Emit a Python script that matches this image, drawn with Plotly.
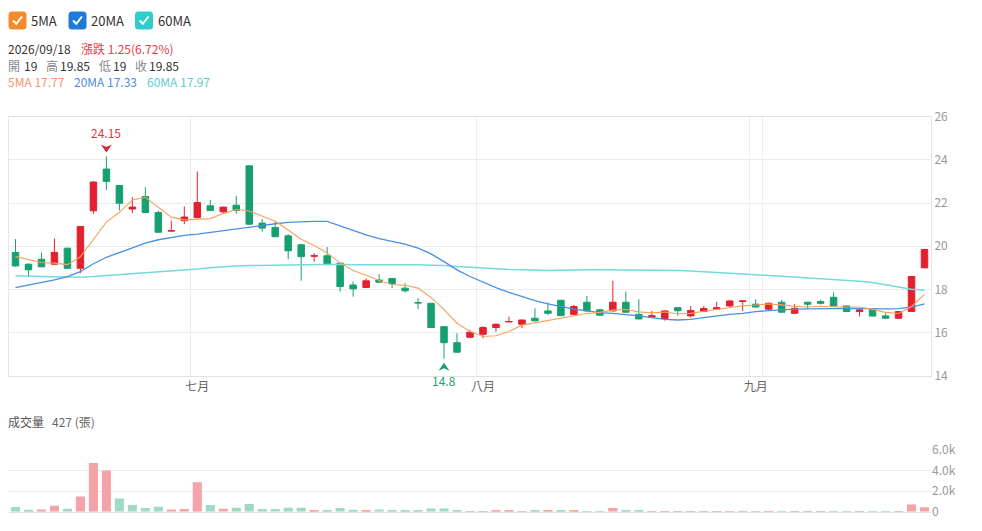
import pandas as pd
import plotly.graph_objects as go

# ---------------- data ----------------
dates = pd.bdate_range("2026-06-10", "2026-09-18", freq="C",
                       holidays=["2026-06-19", "2026-07-24"])
date_labels = [d.strftime("%Y/%m/%d") for d in dates]

opens = [19.71, 19.17, 19.40, 19.17, 19.91, 18.98, 21.64, 23.57, 22.81, 21.72,
         22.30, 21.56, 20.70, 21.18, 21.33, 21.87, 21.59, 21.90, 23.72, 21.07,
         20.87, 20.48, 20.07, 19.54, 19.56, 19.22, 18.21, 18.09, 18.44, 18.51,
         18.06, 17.40, 17.36, 16.28, 15.54, 15.79, 15.93, 16.24, 16.50, 16.39,
         16.67, 17.01, 17.50, 16.85, 17.41, 17.06, 17.01, 17.41, 16.85, 16.72,
         16.65, 17.16, 16.78, 16.98, 17.09, 17.24, 17.45, 17.32, 17.09, 17.41,
         16.90, 17.41, 17.44, 17.64, 17.24, 16.98, 17.09, 16.78, 16.67, 16.98,
         19.00]
highs = [20.33, 19.20, 19.71, 20.36, 19.93, 20.93, 23.00, 24.15, 22.83, 22.27,
         22.73, 21.65, 21.19, 21.84, 23.46, 22.15, 21.83, 22.33, 23.74, 21.25,
         21.15, 20.56, 20.09, 19.68, 19.96, 19.24, 18.37, 18.51, 18.71, 18.53,
         18.29, 17.60, 17.38, 16.30, 15.98, 16.13, 16.30, 16.44, 16.75, 16.60,
         17.13, 17.40, 17.52, 17.29, 17.70, 17.10, 18.40, 17.90, 17.55, 17.01,
         17.03, 17.18, 17.24, 17.24, 17.43, 17.50, 17.50, 17.55, 17.40, 17.52,
         17.33, 17.43, 17.52, 17.87, 17.26, 17.08, 17.10, 16.90, 17.00, 18.62,
         19.85]
lows = [19.05, 18.57, 19.03, 19.15, 18.96, 18.75, 21.50, 22.61, 21.65, 21.53,
        21.55, 20.63, 20.69, 21.02, 21.30, 21.63, 21.50, 21.50, 21.00, 20.68,
        20.42, 19.40, 18.41, 19.28, 19.13, 17.90, 17.67, 18.07, 18.32, 18.06,
        17.86, 17.09, 16.22, 14.80, 15.08, 15.78, 15.74, 16.05, 16.49, 16.21,
        16.53, 16.82, 16.77, 16.83, 16.99, 16.79, 16.99, 16.93, 16.62, 16.70,
        16.56, 16.79, 16.70, 16.96, 17.07, 17.16, 17.01, 17.17, 17.05, 16.93,
        16.87, 17.10, 17.30, 17.22, 16.96, 16.75, 16.76, 16.65, 16.65, 16.96,
        19.00]
closes = [19.09, 18.91, 19.05, 19.71, 18.98, 20.91, 22.97, 23.00, 21.99, 21.81,
          21.56, 20.65, 20.72, 21.35, 22.02, 21.65, 21.81, 21.65, 21.02, 20.84,
          20.44, 19.79, 19.52, 19.56, 19.15, 18.14, 18.03, 18.40, 18.34, 18.26,
          17.94, 17.38, 16.24, 15.54, 15.10, 16.02, 16.24, 16.39, 16.52, 16.59,
          16.55, 16.90, 16.79, 17.21, 17.01, 16.81, 17.41, 16.95, 16.64, 16.79,
          17.01, 17.02, 17.03, 17.12, 17.16, 17.47, 17.47, 17.19, 17.36, 16.95,
          17.13, 17.32, 17.36, 17.24, 16.98, 17.06, 16.77, 16.67, 16.98, 18.60,
          19.85]
volumes = [450, 190, 225, 580, 290, 1480, 4740, 4000, 1290, 645,
           355, 485, 225, 260, 2870, 645, 290, 390, 740, 260,
           260, 390, 390, 160, 130, 355, 190, 100, 225, 160,
           100, 100, 320, 320, 160, 65, 65, 100, 70, 60,
           70, 160, 70, 70, 50, 50, 355, 130, 130, 65,
           50, 65, 65, 50, 50, 50, 60, 45, 45, 60,
           45, 45, 45, 65, 45, 40, 35, 35, 45, 710,
           427]
ma5_head = [19.52, 19.37, 19.25, 19.22]
ma20 = [18.09, 18.21, 18.34, 18.44, 18.60, 18.83, 19.19, 19.49, 19.71, 19.94,
        20.14, 20.30, 20.40, 20.50, 20.56, 20.64, 20.71, 20.79, 20.88, 20.98,
        21.04, 21.10, 21.13, 21.15, 21.15, 20.94, 20.71, 20.53, 20.35, 20.22,
        20.10, 19.91, 19.65, 19.29, 18.91, 18.60, 18.34, 18.09, 17.87, 17.67,
        17.49, 17.33, 17.21, 17.09, 17.01, 16.93, 16.90, 16.85, 16.78, 16.70,
        16.62, 16.59, 16.62, 16.70, 16.78, 16.85, 16.90, 16.98, 17.02, 17.06,
        17.09, 17.10, 17.12, 17.13, 17.13, 17.12, 17.10, 17.10, 17.12, 17.18,
        17.33]
ma60 = [18.64, 18.61, 18.60, 18.59, 18.57, 18.57, 18.60, 18.64, 18.68, 18.72,
        18.77, 18.81, 18.85, 18.89, 18.95, 19.01, 19.06, 19.09, 19.11, 19.12,
        19.14, 19.15, 19.15, 19.17, 19.17, 19.17, 19.15, 19.15, 19.17, 19.15,
        19.15, 19.14, 19.12, 19.11, 19.06, 19.02, 18.98, 18.95, 18.92, 18.91,
        18.89, 18.88, 18.89, 18.91, 18.91, 18.91, 18.91, 18.91, 18.91, 18.89,
        18.89, 18.88, 18.86, 18.83, 18.80, 18.77, 18.74, 18.69, 18.65, 18.61,
        18.57, 18.54, 18.51, 18.48, 18.43, 18.38, 18.32, 18.21, 18.10, 18.01,
        17.97]
month_names = {7: "七月", 8: "八月", 9: "九月"}
price_ticks = [14, 16, 18, 20, 22, 24, 26]
vol_ticks = [0, 2000, 4000, 6000]
vol_tick_labels = ["0", "2.0k", "4.0k", "6.0k"]

# ---------------- derived ----------------
n = len(closes)
ma5 = ma5_head + [sum(closes[i - 4:i + 1]) / 5 for i in range(4, n)]
vol_up = [closes[0] >= opens[0]] + [closes[i] >= closes[i - 1] for i in range(1, n)]

month_ticks, month_text = [], []
for i in range(1, n):
    d = dates[i]
    if d.month in month_names and dates[i - 1].month != d.month:
        month_ticks.append(date_labels[i])
        month_text.append(month_names[d.month])

RED = "#e3202e"
GREEN = "#17a06f"
VOL_RED = "#f4a4a9"
VOL_GREEN = "#a0d9c4"
C5, C20, C60 = "#f6a25e", "#4a90e2", "#72dcdc"
FONT = "Noto Sans CJK TC, Noto Sans, sans-serif"

W, H = 982, 531
ML, MR = 9, 51
PW = W - ML - MR


def px(x):
    return (x - ML) / PW


def py(y):
    return 1 - y / H


fig = go.Figure()

fig.add_trace(go.Candlestick(
    x=date_labels, open=opens, high=highs, low=lows, close=closes,
    increasing=dict(line=dict(color=RED, width=1), fillcolor=RED),
    decreasing=dict(line=dict(color=GREEN, width=1), fillcolor=GREEN),
    whiskerwidth=0, hoverinfo="skip", showlegend=False,
    xaxis="x", yaxis="y"))

for vals, col, wdt in [(ma60, C60, 1.5), (ma20, C20, 1.3), (ma5, C5, 1.1)]:
    fig.add_trace(go.Scatter(x=date_labels, y=vals, mode="lines",
                             line=dict(color=col, width=wdt),
                             hoverinfo="skip", showlegend=False,
                             xaxis="x", yaxis="y"))

fig.add_trace(go.Bar(x=date_labels, y=volumes,
                     marker=dict(color=[VOL_RED if u else VOL_GREEN for u in vol_up],
                                 line=dict(width=0)),
                     hoverinfo="skip", showlegend=False,
                     xaxis="x2", yaxis="y2"))

fig.update_layout(
    width=W, height=H,
    margin=dict(l=ML, r=MR, t=0, b=0, autoexpand=False),
    paper_bgcolor="white", plot_bgcolor="white",
    font=dict(family=FONT, size=12, color="#333"),
    showlegend=False,
    boxgap=0.5, boxgroupgap=0, bargap=0.3,
    xaxis=dict(type="category", domain=[0, 1], anchor="y", range=[-0.5, n - 0.5],
               tickmode="array", tickvals=month_ticks, ticktext=month_text,
               tickson="boundaries", ticks="", tickangle=0, automargin=False,
               showgrid=True, gridcolor="#eceef3",
               showline=True, linecolor="#dde1e8", mirror=True,
               tickfont=dict(size=12, color="#666"),
               rangeslider=dict(visible=False), fixedrange=True),
    yaxis=dict(domain=[py(376), py(116.5)], anchor="x", range=[14, 26],
               side="right", tickvals=price_ticks, showgrid=True, automargin=False,
               gridcolor="#e8ebf1", showline=True, linecolor="#e3e6ec", mirror=True,
               zeroline=False, ticks="", tickfont=dict(size=12, color="#999"),
               fixedrange=True),
    xaxis2=dict(type="category", domain=[0, 1], anchor="y2", range=[-0.5, n - 0.5],
                showticklabels=False, showgrid=False, ticks="", automargin=False,
                showline=True, linecolor="#dcdfe6", fixedrange=True),
    yaxis2=dict(domain=[py(511.7), py(450)], anchor="x2", range=[0, 6000],
                side="right", tickvals=vol_ticks, ticktext=vol_tick_labels,
                showgrid=True, gridcolor="#e8ebf1", zeroline=False, ticks="",
                automargin=False,
                tickfont=dict(size=12, color="#999"), fixedrange=True),
)

# ---------- max / min markers ----------
imax = max(range(n), key=lambda i: highs[i])
imin = min(range(n), key=lambda i: lows[i])
fig.add_shape(type="path", xref="x", yref="y", xsizemode="pixel", ysizemode="pixel",
              xanchor=imax, yanchor=highs[imax],
              path="M0,4 L-5.5,12 L0,9.5 L5.5,12 Z",
              fillcolor=RED, line=dict(width=0))
fig.add_shape(type="path", xref="x", yref="y", xsizemode="pixel", ysizemode="pixel",
              xanchor=imin, yanchor=lows[imin],
              path="M0,-4 L-5.5,-12 L0,-9.5 L5.5,-12 Z",
              fillcolor=GREEN, line=dict(width=0))
fig.add_annotation(x=imax, y=highs[imax], xref="x", yref="y", text=f"{highs[imax]:g}",
                   showarrow=False, yshift=24, font=dict(size=12, color="#e5353f"))
fig.add_annotation(x=imin, y=lows[imin], xref="x", yref="y", text=f"{lows[imin]:g}",
                   showarrow=False, yshift=-22, font=dict(size=12, color="#1f9e74"))


# ---------- custom legend ----------
def rounded_rect(x0, y0, x1, y1, r):
    return (f"M{px(x0 + r)},{py(y0)} L{px(x1 - r)},{py(y0)} Q{px(x1)},{py(y0)} {px(x1)},{py(y0 + r)} "
            f"L{px(x1)},{py(y1 - r)} Q{px(x1)},{py(y1)} {px(x1 - r)},{py(y1)} "
            f"L{px(x0 + r)},{py(y1)} Q{px(x0)},{py(y1)} {px(x0)},{py(y1 - r)} "
            f"L{px(x0)},{py(y0 + r)} Q{px(x0)},{py(y0)} {px(x0 + r)},{py(y0)} Z")


legend_items = [("5MA", "#f28b2c", 8.5), ("20MA", "#1e7bd7", 68.5), ("60MA", "#2ecccb", 135)]
for name, col, x0 in legend_items:
    fig.add_shape(type="path", xref="paper", yref="paper",
                  path=rounded_rect(x0, 11.5, x0 + 18, 29.5, 3.5),
                  fillcolor=col, line=dict(width=0), layer="above")
    fig.add_shape(type="path", xref="paper", yref="paper",
                  path=(f"M{px(x0 + 4.5)},{py(20.5)} L{px(x0 + 7.8)},{py(23.8)} "
                        f"L{px(x0 + 13.5)},{py(16.5)}"),
                  line=dict(color="white", width=2), layer="above")
    fig.add_annotation(x=px(x0 + 21.5), y=py(20.5), xref="paper", yref="paper",
                       text=name, showarrow=False, xanchor="left", yanchor="middle",
                       borderpad=0, font=dict(size=13, color="#333"))

# ---------- header info ----------
chg = closes[-1] - closes[-2]
pct = chg / closes[-2] * 100


def label(x, y, text, color, size=12):
    fig.add_annotation(x=px(x), y=py(y), xref="paper", yref="paper", text=text,
                       showarrow=False, xanchor="left", yanchor="middle", borderpad=0,
                       font=dict(size=size, color=color))


label(7, 48.5, date_labels[-1], "#333")
label(80, 48.5, f"漲跌 {chg:.2f}({pct:.2f}%)", "#e5404a")
label(7, 65.5, "開", "#888")
label(23, 65.5, f"{opens[-1]:g}", "#333")
label(45, 65.5, "高", "#888")
label(59, 65.5, f"{highs[-1]:g}", "#333")
label(98, 65.5, "低", "#888")
label(112, 65.5, f"{lows[-1]:g}", "#333")
label(134, 65.5, "收", "#888")
label(148, 65.5, f"{closes[-1]:g}", "#333")
label(7, 81, f"5MA {ma5[-1]:.2f}", "#f7956b")
label(73, 81, f"20MA {ma20[-1]:.2f}", "#4c8ee2")
label(146, 81, f"60MA {ma60[-1]:.2f}", "#5ccdd4")
label(7, 421.5, "成交量", "#555")
label(51, 421.5, f"{volumes[-1]} (張)", "#666")

fig.write_html("out.html", config={"displayModeBar": False},
               post_script="document.body.style.margin='0px';")
